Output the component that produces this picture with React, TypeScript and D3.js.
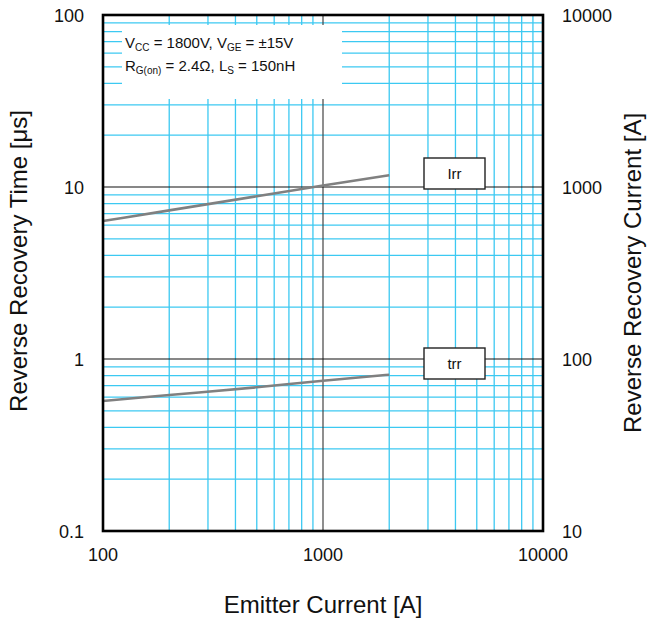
import React from 'react';
import * as d3 from 'd3';

const emitterCurrent = [100, 200, 500, 1000, 2000];
const irrValues = [634, 731, 883, 1020, 1170];
const trrValues = [0.57, 0.617, 0.685, 0.748, 0.81];
const xTickValues = [100, 1000, 10000];
const xTickLabels = ['100', '1000', '10000'];
const leftTickValues = [0.1, 1, 10, 100];
const leftTickLabels = ['0.1', '1', '10', '100'];
const rightTickValues = [10, 100, 1000, 10000];
const rightTickLabels = ['10', '100', '1000', '10000'];

const FONT = '"Liberation Sans", Arial, Helvetica, sans-serif';

const isMajor = (v: number) => Math.abs(Math.log10(v) - Math.round(Math.log10(v))) < 1e-9;

export default function App() {
  const W = 649, H = 622;
  const m = { l: 103, r: 543, t: 15, b: 531 };
  const x = d3.scaleLog().domain([100, 10000]).range([m.l, m.r]);
  const yL = d3.scaleLog().domain([0.1, 100]).range([m.b, m.t]);
  const yR = d3.scaleLog().domain([10, 10000]).range([m.b, m.t]);

  const xAll = x.ticks();
  const yAll = yL.ticks();
  const xMinor = xAll.filter(v => !isMajor(v));
  const yMinor = yAll.filter(v => !isMajor(v));
  const xMajorInner = xAll.filter(v => isMajor(v) && v > 100 && v < 10000);
  const yMajorInner = yAll.filter(v => isMajor(v) && v > 0.1 && v < 100);

  const irrLine = d3.line<number>()
    .x((_, i) => x(emitterCurrent[i]))
    .y(d => yR(d))
    .curve(d3.curveMonotoneX);
  const trrLine = d3.line<number>()
    .x((_, i) => x(emitterCurrent[i]))
    .y(d => yL(d))
    .curve(d3.curveMonotoneX);

  const cyan = '#3cc9f2';
  const boxX = 424, boxW = 61, boxH = 31;

  return (
    <svg width={W} height={H} style={{ position: 'absolute', left: 0, top: 0, background: '#fff' }} fontFamily={FONT}>
      <rect x={0} y={0} width={W} height={H} fill="#fff" />
      {/* minor grid */}
      {xMinor.map(v => (
        <line key={'xm' + v} x1={x(v)} x2={x(v)} y1={m.t} y2={m.b} stroke={cyan} strokeWidth={1.3} />
      ))}
      {yMinor.map(v => (
        <line key={'ym' + v} x1={m.l} x2={m.r} y1={yL(v)} y2={yL(v)} stroke={cyan} strokeWidth={1.3} />
      ))}
      {/* major grid */}
      {xMajorInner.map(v => (
        <line key={'xM' + v} x1={x(v)} x2={x(v)} y1={m.t} y2={m.b} stroke="#444" strokeWidth={1.2} />
      ))}
      {yMajorInner.map(v => (
        <line key={'yM' + v} x1={m.l} x2={m.r} y1={yL(v)} y2={yL(v)} stroke="#111" strokeWidth={1.2} />
      ))}
      {/* conditions legend */}
      <rect x={122} y={25} width={220} height={74} fill="#fff" />
      <text x={125} y={48} fontSize={15} fill="#111">
        V<tspan fontSize={10} dy={3}>CC</tspan><tspan dy={-3}> = 1800V, V</tspan><tspan fontSize={10} dy={3}>GE</tspan><tspan dy={-3}> = ±15V</tspan>
      </text>
      <text x={125} y={71} fontSize={15} fill="#111">
        R<tspan fontSize={10} dy={3}>G(on)</tspan><tspan dy={-3}> = 2.4Ω, L</tspan><tspan fontSize={10} dy={3}>S</tspan><tspan dy={-3}> = 150nH</tspan>
      </text>
      {/* curves */}
      <path d={irrLine(irrValues) || ''} fill="none" stroke="#808080" strokeWidth={2.6} />
      <path d={trrLine(trrValues) || ''} fill="none" stroke="#808080" strokeWidth={2.6} />
      {/* curve labels */}
      <rect x={boxX} y={158} width={boxW} height={boxH} fill="#fff" stroke="#222" strokeWidth={1.4} />
      <text x={boxX + boxW / 2} y={179} fontSize={15} textAnchor="middle" fill="#111">Irr</text>
      <rect x={boxX} y={348} width={boxW} height={boxH} fill="#fff" stroke="#222" strokeWidth={1.4} />
      <text x={boxX + boxW / 2} y={369} fontSize={15} textAnchor="middle" fill="#111">trr</text>
      {/* frame */}
      <rect x={m.l} y={m.t} width={m.r - m.l} height={m.b - m.t} fill="none" stroke="#000" strokeWidth={2.6} />
      {/* tick labels */}
      {xTickValues.map((v, i) => (
        <text key={'xt' + v} x={x(v)} y={561} fontSize={18} textAnchor="middle" fill="#111">{xTickLabels[i]}</text>
      ))}
      {leftTickValues.map((v, i) => (
        <text key={'lt' + v} x={84} y={yL(v) + 6.5} fontSize={18} textAnchor="end" fill="#111">{leftTickLabels[i]}</text>
      ))}
      {rightTickValues.map((v, i) => (
        <text key={'rt' + v} x={562} y={yR(v) + 6.5} fontSize={18} textAnchor="start" fill="#111">{rightTickLabels[i]}</text>
      ))}
      {/* axis titles */}
      <text x={323} y={613} fontSize={24} textAnchor="middle" fill="#111">Emitter Current [A]</text>
      <text transform={`translate(27,${(m.t + m.b) / 2 - 12}) rotate(-90)`} fontSize={24} textAnchor="middle" fill="#111">Reverse Recovery Time [μs]</text>
      <text transform={`translate(641,${(m.t + m.b) / 2}) rotate(-90)`} fontSize={24} textAnchor="middle" fill="#111">Reverse Recovery Current [A]</text>
    </svg>
  );
}
